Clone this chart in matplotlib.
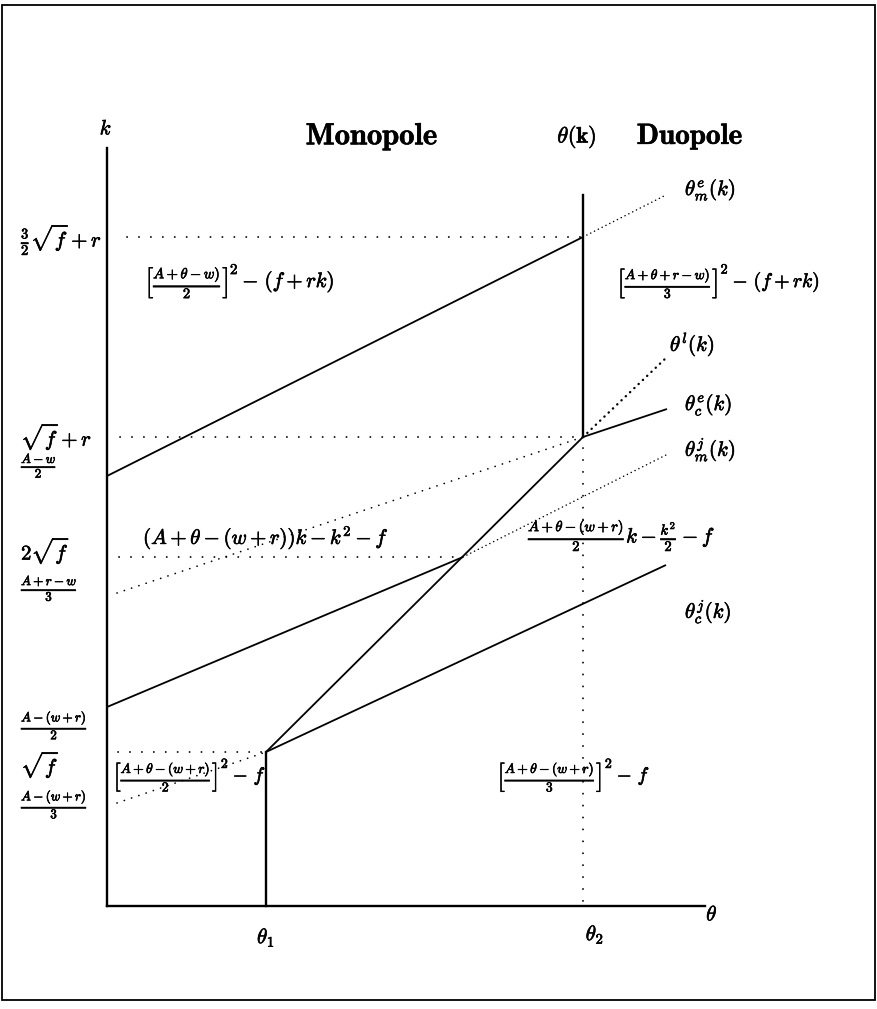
import matplotlib
matplotlib.use("Agg")
import matplotlib.pyplot as plt
import matplotlib.patheffects as pe
from matplotlib.patches import Rectangle

plt.rcParams["mathtext.fontset"] = "cm"
plt.rcParams["font.family"] = ["DejaVu Serif"]

# --- diagram values (theta on the horizontal axis, k on the vertical axis) ---
theta1 = 1.59
theta2 = 4.76
theta_end = 5.98          # length of the theta axis
k_top = 7.58              # length of the k axis
k_label_texts = [
    r"$\frac{3}{2}\sqrt{f}+r$",
    r"$\sqrt{f}+r$",
    r"$\frac{A-w}{2}$",
    r"$2\sqrt{f}$",
    r"$\frac{A+r-w}{3}$",
    r"$\frac{A-(w+r)}{2}$",
    r"$\sqrt{f}$",
    r"$\frac{A-(w+r)}{3}$",
]
k_label_values = [6.66, 4.69, 4.40, 3.55, 3.18, 1.82, 1.41, 1.03]
k_label_sizes = [15, 15, 13.5, 15, 13.5, 13.5, 15, 13.5]

# solid boundaries
mono_upper_theta = [0.0, theta2]
mono_upper_k = [4.30, 6.69]
mono_mid_theta = [0.0, 3.56]
mono_mid_k = [1.99, 3.49]
diag_theta = [theta1, theta2]
diag_k = [1.54, 4.69]
thetac_j_theta = [theta1, 5.59]
thetac_j_k = [1.54, 3.41]
thetac_e_theta = [theta2, 5.60]
thetac_e_k = [4.69, 4.97]
theta2_wall_k = [4.69, 7.11]
theta1_wall_k = [0.0, 1.54]

# dotted continuations
thetam_e_theta = [theta2, 5.59]
thetam_e_k = [6.69, 7.11]
thetal_theta = [theta2, 5.60]
thetal_k = [4.69, 5.49]
thetam_j_theta = [3.56, 5.59]
thetam_j_k = [3.49, 4.51]
left_ray1_theta = [0.10, theta2]
left_ray1_k = [3.13, 4.69]
left_ray2_theta = [0.10, theta1]
left_ray2_k = [1.03, 1.54]
guide_levels = [6.69, 4.69, 3.49, 1.54]
guide_starts = [0.20, 0.13, 0.12, 0.11]
guide_ends = [theta2, theta2, 3.56, theta1]
theta2_guide_k = [0.05, 4.69]

# region payoff labels: squared brackets (inner fraction, tail) and plain ones
bracket_inner = [
    r"\frac{A+\theta-w)}{2}",
    r"\frac{A+\theta+r-w)}{3}",
    r"\frac{A+\theta-(w+r)}{2}",
    r"\frac{A+\theta-(w+r)}{3}",
]
bracket_tail = [r"$-\ (f+rk)$", r"$-\ (f+rk)$", r"$-\ f$", r"$-\ f$"]
bracket_anchor = [(0.38, 6.24), (5.10, 6.24), (0.06, 1.30), (3.90, 1.30)]
bracket_size = [15, 14.2, 14, 14]

plain_texts = [
    r"$(A+\theta-(w+r))k-k^2-f$",
    r"$\frac{A+\theta-(w+r)}{2}k-\frac{k^2}{2}-f$",
]
plain_anchor = [(0.36, 3.68), (4.21, 3.71)]

curve_names = [r"$\theta^e_m(k)$", r"$\theta^l(k)$", r"$\theta^e_c(k)$",
               r"$\theta^j_m(k)$", r"$\theta^j_c(k)$"]
curve_name_anchor = [(5.78, 7.16), (5.63, 5.61), (5.78, 5.01),
                     (5.78, 4.56), (5.78, 2.94)]

W, H = 877, 1009
fig = plt.figure(figsize=(W / 100, H / 100), dpi=100)
fig.patch.set_facecolor("white")
ax = fig.add_axes([0, 0, 1, 1])
ax.set_xlim(-1.07, 7.70)
ax.set_ylim(-1.03, 9.06)
ax.axis("off")

ink = [pe.withStroke(linewidth=0.45, foreground="black")]

# page frame
fig.patches.append(Rectangle((2 / W, 9 / H), 873 / W, 995 / H, fill=False,
                             lw=1.3, ec="black", transform=fig.transFigure))

solid = dict(color="black", lw=1.3, solid_capstyle="butt")
ax.plot([0, 0], [0, k_top], color="black", lw=1.7)
ax.plot([0, theta_end], [0, 0], color="black", lw=1.7)

ax.plot(mono_upper_theta, mono_upper_k, **solid)
ax.plot(mono_mid_theta, mono_mid_k, **solid)
ax.plot(diag_theta, diag_k, **solid)
ax.plot(thetac_j_theta, thetac_j_k, **solid)
ax.plot(thetac_e_theta, thetac_e_k, **solid)
ax.plot([theta2, theta2], theta2_wall_k, color="black", lw=1.7)
ax.plot([theta1, theta1], theta1_wall_k, color="black", lw=1.7)

sparse = dict(color="black", lw=1.3, dashes=(0.1, 6.5), dash_capstyle="round")
medium = dict(color="black", lw=1.2, dashes=(0.1, 4.5), dash_capstyle="round")
dense = dict(color="black", lw=1.1, dashes=(0.1, 2.7), dash_capstyle="round")
heavy = dict(color="black", lw=1.7, dashes=(0.1, 2.4), dash_capstyle="round")

for lvl, a, b in zip(guide_levels, guide_starts, guide_ends):
    ax.plot([a, b], [lvl, lvl], **sparse)
ax.plot([theta2, theta2], theta2_guide_k, **sparse)
ax.plot(left_ray1_theta, left_ray1_k, **medium)
ax.plot(left_ray2_theta, left_ray2_k, **medium)
ax.plot(thetam_e_theta, thetam_e_k, **dense)
ax.plot(thetam_j_theta, thetam_j_k, **dense)
ax.plot(thetal_theta, thetal_k, **heavy)

# titles over the two regimes
ax.text(2.65, 7.69, r"$\mathbf{Monopole}$", fontsize=22, ha="center",
        va="center", path_effects=ink)
ax.text(5.83, 7.69, r"$\mathbf{Duopole}$", fontsize=21, ha="center",
        va="center", path_effects=ink)
ax.text(4.70, 7.69, r"$\theta(\mathbf{k})$", fontsize=16, ha="center",
        va="center", path_effects=ink)

# axis names and theta marks
ax.text(-0.01, 7.77, r"$k$", fontsize=15, ha="center", va="center", path_effects=ink)
ax.text(6.05, -0.09, r"$\theta$", fontsize=15, ha="center", va="center", path_effects=ink)
ax.text(theta1, -0.32, r"$\theta_1$", fontsize=15, ha="center", va="center",
        path_effects=ink)
ax.text(4.88, -0.29, r"$\theta_2$", fontsize=15, ha="center", va="center",
        path_effects=ink)

for txt, val, fs in zip(k_label_texts, k_label_values, k_label_sizes):
    ax.text(-0.86, val, txt, fontsize=fs, ha="left", va="center", path_effects=ink)


def bracket_label(x, y, inner, tail, fs):
    """[ inner ]^2 tail, with the exponent set at the top of the bracket."""
    body = ax.text(x, y, r"$\left[" + inner + r"\right]$", fontsize=fs,
                   ha="left", va="center", path_effects=ink)
    sup = ax.annotate(r"$2$", xy=(1.0, 1.0), xycoords=body, xytext=(1.5, 1.0),
                      textcoords="offset points", fontsize=fs * 0.72,
                      ha="left", va="top", path_effects=ink)
    ax.annotate(tail, xy=(1.0, 0.5), xycoords=(sup, body), xytext=(2.5, 0),
                textcoords="offset points", fontsize=fs, ha="left",
                va="center", path_effects=ink)


for inner, tail, (x, y), fs in zip(bracket_inner, bracket_tail,
                                   bracket_anchor, bracket_size):
    bracket_label(x, y, inner, tail, fs)

for txt, (x, y) in zip(plain_texts, plain_anchor):
    ax.text(x, y, txt, fontsize=15, ha="left", va="center", path_effects=ink)

for txt, (x, y) in zip(curve_names, curve_name_anchor):
    ax.text(x, y, txt, fontsize=15, ha="left", va="center", path_effects=ink)

fig.savefig("out.png", dpi=100, facecolor="white")
